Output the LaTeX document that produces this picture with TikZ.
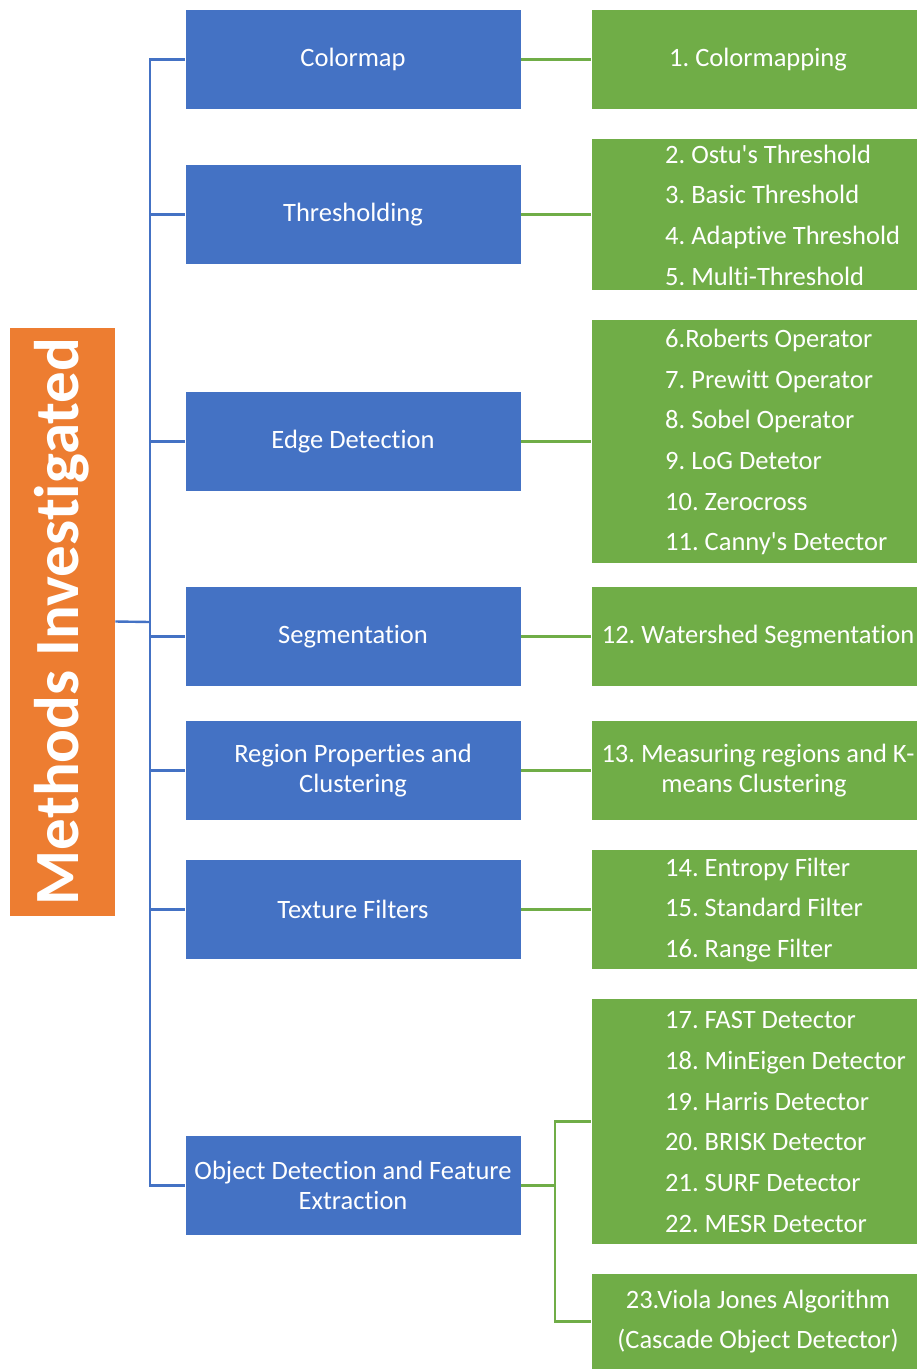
\documentclass[tikz,border=0pt]{standalone}
\usepackage{fontspec}
\setmainfont{Carlito}[Ligatures={TeXOff,NoCommon}]
\definecolor{catblue}{HTML}{4472C4}
\definecolor{leafgreen}{HTML}{70AD47}
\definecolor{rootorange}{HTML}{ED7D31}
\begin{document}
\frenchspacing
\begin{tikzpicture}[x=1pt,y=-1pt,
  catbox/.style={fill=catblue, draw=white, line width=0.8pt, minimum width=336pt,
    minimum height=100pt, inner sep=0pt, text=white, align=center,
    font=\fontsize{26.5}{30}\selectfont},
  leafbox/.style={fill=leafgreen, draw=white, line width=0.8pt, minimum width=326pt,
    inner sep=0pt, text=white, align=center,
    font=\fontsize{26.5}{30}\selectfont},
  leaflist/.style={anchor=west, inner sep=0pt, text=white, align=left,
    font=\fontsize{26.5}{40.7}\selectfont},
  rootbox/.style={fill=rootorange, draw=white, line width=0.8pt, minimum width=589pt,
    minimum height=106pt, inner sep=0pt, text=white, rotate=90,
    font=\fontsize{63}{70}\selectfont\bfseries},
  bline/.style={draw=catblue, line width=2.4pt},
  gline/.style={draw=leafgreen, line width=2.4pt}]
\useasboundingbox (0,0) rectangle (917,1369);

% root
\node[rootbox] (root) at (62,621.5) {Methods Investigated};

% categories
\node[catbox] (cmap) at (353,59.5)   {Colormap};
\node[catbox] (thr)  at (353,214.5)  {Thresholding};
\node[catbox] (edge) at (353,441.5)  {Edge Detection};
\node[catbox] (seg)  at (353,636.5)  {Segmentation};
\node[catbox] (reg)  at (353,770.5)  {Region Properties and\\Clustering};
\node[catbox] (tex)  at (353,909.5)  {Texture Filters};
\node[catbox] (obj)  at (353,1185.5) {Object Detection and Feature\\Extraction};

% methods
\node[leafbox, minimum height=100pt] (lcmap) at (754,59.5) {\hspace*{8pt}1. Colormapping};
\node[leafbox, minimum height=152pt] (lthr)  at (754,214.5) {};
\node[leaflist] (tthr) at (665,215) {2. Ostu's Threshold\\3. Basic Threshold\\4. Adaptive Threshold\\5. Multi-Threshold};
\node[leafbox, minimum height=244pt] (ledge) at (754,441.5) {};
\node[leaflist] (tedge) at (665,442) {6.Roberts Operator\\7. Prewitt Operator\\8. Sobel Operator\\9. LoG Detetor\\10. Zerocross\\11. Canny's Detector};
\node[leafbox, minimum height=100pt] (lseg) at (754,636.5) {\hspace*{8pt}12. Watershed Segmentation};
\node[leafbox, minimum height=100pt] (lreg) at (754,770.5) {\hspace*{8pt}13. Measuring regions and K-\\means Clustering};
\node[leafbox, minimum height=120pt] (ltex) at (754,909.5) {};
\node[leaflist] (ttex) at (665,910) {14. Entropy Filter\\15. Standard Filter\\16. Range Filter};
\node[leafbox, minimum height=246pt] (ldet) at (754,1121.5) {};
\node[leaflist] (tdet) at (665,1122) {17. FAST Detector\\18. MinEigen Detector\\19. Harris Detector\\20. BRISK Detector\\21. SURF Detector\\22. MESR Detector};
\node[leafbox, minimum height=96pt, font=\fontsize{26.5}{40.7}\selectfont] (lvj) at (754,1321.5) {\hspace*{8pt}23.Viola Jones Algorithm\\\hspace*{8pt}(Cascade Object Detector)};

% tree from the root to the categories
\coordinate (trunk) at (150,622);
\draw[bline] (root.south) -- (trunk);
\foreach \c in {cmap,thr,edge,seg,reg,tex,obj}
  \draw[bline] (trunk) |- (\c.west);

% categories to methods
\draw[gline] (cmap.east) -- (lcmap.west);
\draw[gline] (thr.east)  -- (lthr.west);
\draw[gline] (edge.east) -- (ledge.west);
\draw[gline] (seg.east)  -- (lseg.west);
\draw[gline] (reg.east)  -- (lreg.west);
\draw[gline] (tex.east)  -- (ltex.west);
\coordinate (fork) at (555,1185.5);
\draw[gline] (obj.east) -- (fork);
\draw[gline] (fork) |- (ldet.west);
\draw[gline] (fork) |- (lvj.west);
\end{tikzpicture}
\end{document}
